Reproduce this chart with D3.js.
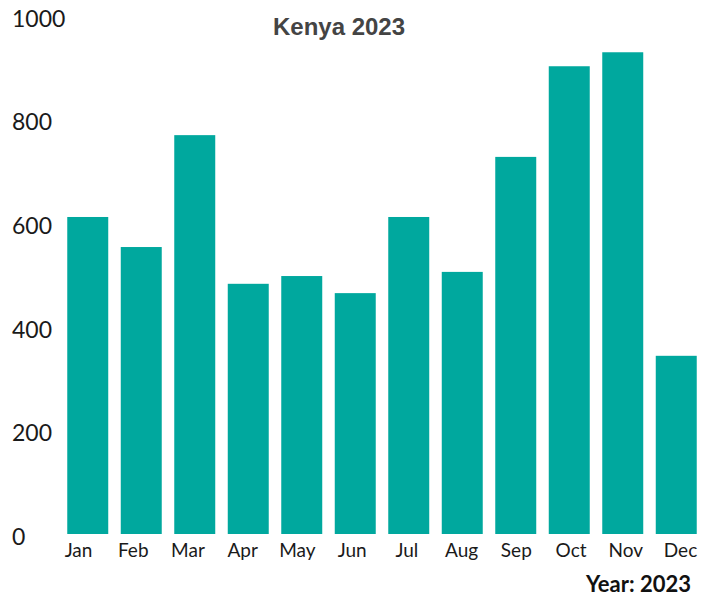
<!DOCTYPE html>
<html>
<head>
<meta charset="utf-8">
<script src="https://cdn.jsdelivr.net/npm/d3@7"></script>
<style>
  body { margin: 0; background: #fff; }
  svg { display: block; }
  .tick-label { font-family: Lato, "Noto Sans", sans-serif; fill: #1a1a1a; }
</style>
</head>
<body>
<svg width="711" height="596"></svg>
<script>
const svg = d3.select('svg');

const months = ['Jan', 'Feb', 'Mar', 'Apr', 'May', 'Jun', 'Jul', 'Aug', 'Sep', 'Oct', 'Nov', 'Dec'];
const values = [612, 554, 770, 483, 498, 465, 612, 506, 728, 903, 930, 344];
const yTicks = [0, 200, 400, 600, 800, 1000];

const titleText = 'Kenya 2023';
const footerText = 'Year: 2023';

// x band scale for the months
const x = d3.scaleBand()
    .domain(months)
    .range([61, 703])
    .paddingInner(0.234)
    .paddingOuter(0.117);

// month labels sit on their own slightly wider spacing
const xLabel = d3.scalePoint()
    .domain(months)
    .range([78, 680]);

// y scale, 0 at the bar baseline
const y = d3.scaleLinear()
    .domain([0, 1000])
    .range([534, 16]);

// bars
svg.append('g')
    .selectAll('rect')
    .data(months)
    .join('rect')
    .attr('x', d => x(d))
    .attr('y', (d, i) => y(values[i]))
    .attr('width', x.bandwidth())
    .attr('height', (d, i) => y(0) - y(values[i]))
    .attr('fill', '#00a89e');

// y axis labels, no line
const yAxis = d3.axisLeft(y).tickValues(yTicks).tickFormat(d3.format('d')).tickSize(0).tickPadding(0);
const yG = svg.append('g').attr('transform', 'translate(12,3)').call(yAxis);
yG.select('.domain').remove();
yG.selectAll('text')
    .attr('class', 'tick-label')
    .attr('text-anchor', 'start')
    .attr('font-size', 23);

// x axis labels, no line
const xAxis = d3.axisBottom(xLabel).tickSize(0).tickPadding(0);
const xG = svg.append('g').attr('transform', 'translate(0,543)').call(xAxis);
xG.select('.domain').remove();
xG.selectAll('text')
    .attr('class', 'tick-label')
    .attr('font-size', 19);

// title
svg.append('text')
    .attr('x', 339)
    .attr('y', 35)
    .attr('text-anchor', 'middle')
    .attr('font-family', '"Liberation Sans", Arial, sans-serif')
    .attr('font-weight', 'bold')
    .attr('font-size', 24)
    .attr('fill', '#444')
    .text(titleText);

// footer
svg.append('text')
    .attr('x', 691)
    .attr('y', 592)
    .attr('text-anchor', 'end')
    .attr('font-family', 'Lato, sans-serif')
    .attr('font-weight', 'bold')
    .attr('font-size', 22)
    .attr('fill', '#111')
    .text(footerText);
</script>
</body>
</html>
